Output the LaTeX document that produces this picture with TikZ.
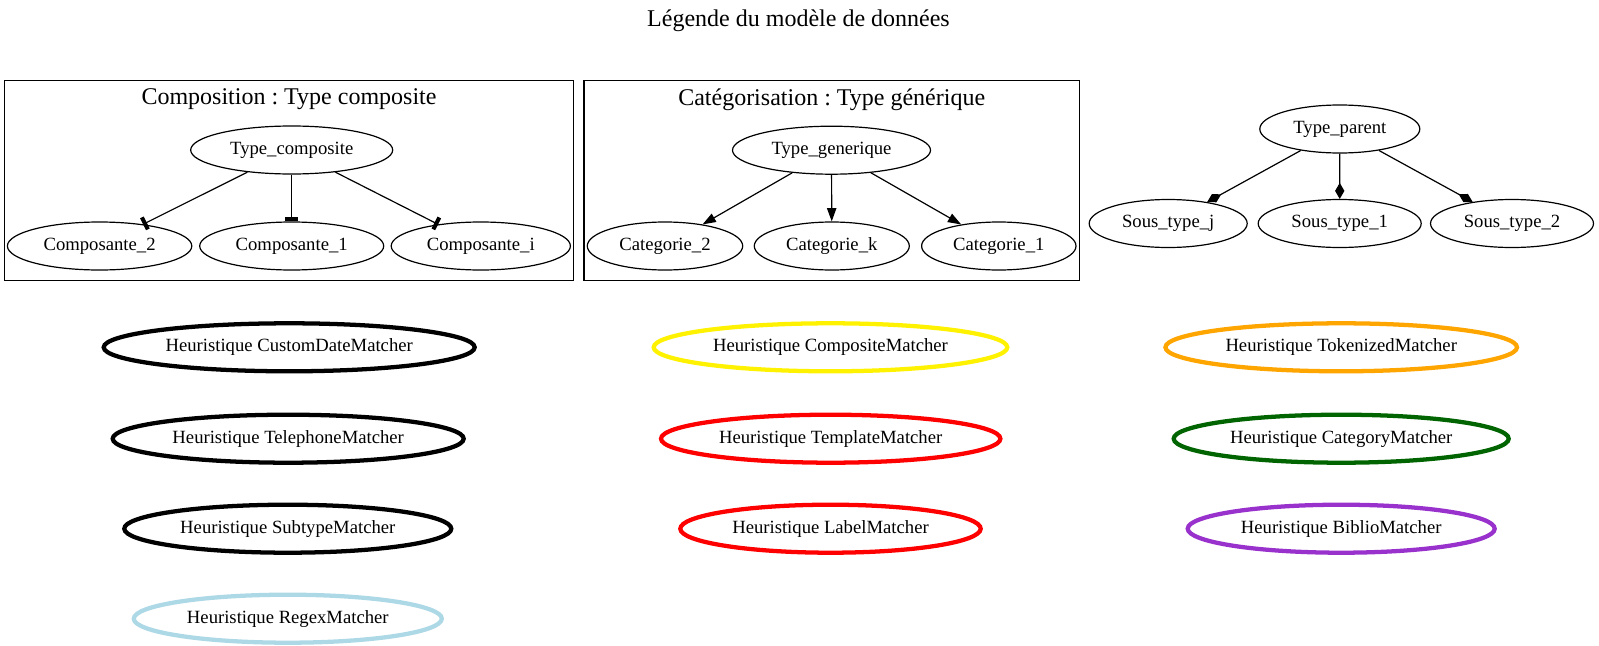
\documentclass[tikz,border=0pt]{standalone}
\usepackage{fontspec}
\setmainfont{Liberation Serif}
\frenchspacing
\usetikzlibrary{shapes.geometric,arrows.meta}
\definecolor{dgreen}{RGB}{0,100,0}
\definecolor{dorchid}{RGB}{153,50,204}
\definecolor{lblue}{RGB}{173,216,230}
\definecolor{orng}{RGB}{255,165,0}
\begin{document}
\begin{tikzpicture}[x=0.75pt,y=-0.75pt,
  ell/.style={ellipse,draw,line width=0.9pt,inner sep=0pt,minimum width=#1*1.5pt,minimum height=36pt,font=\fontsize{14}{16}\selectfont},
  heur/.style 2 args={ellipse,draw=#2,line width=3.2pt,inner sep=0pt,minimum width=#1*1.5pt,minimum height=36pt,font=\fontsize{14}{16}\selectfont},
  clus/.style={draw,line width=0.9pt},
  big/.style={font=\fontsize{18}{21}\selectfont},
  edg/.style={line width=0.9pt},
  teee/.style={edg,-{Rectangle[length=3pt,width=10pt]}},
  tri/.style={edg,-{Triangle[length=10pt,width=7pt]}},
  dia/.style={edg,-{Diamond[length=12pt,width=7pt]}}]
\path[use as bounding box] (0,0) rectangle (1599,646);
\node[big] (title) at (798.5,20.5) {Légende du modèle de données};
% clusters
\draw[clus] (4.8,80.5) rectangle (573.3,280.2);
\draw[clus] (584,80.5) rectangle (1079.3,280.2);
\node[big] (c1) at (289,99.5) {Composition : Type composite};
\node[big] (c2) at (831.7,99.5) {Catégorisation : Type générique};
% composition
\node[ell=101] (tc) at (291.7,150) {Type\_composite};
\node[ell=92.2] (cp2) at (99.6,246) {Composante\_2};
\node[ell=92] (cp1) at (291.7,246) {Composante\_1};
\node[ell=89.6] (cpi) at (480.8,246) {Composante\_i};
\draw[teee] (tc) -- (cp2);
\draw[teee] (tc) -- (cp1);
\draw[teee] (tc) -- (cpi);
% categorisation
\node[ell=99] (tg) at (831.5,150.2) {Type\_generique};
\node[ell=77.7] (ct2) at (665,246) {Categorie\_2};
\node[ell=77.5] (ctk) at (831.8,246) {Categorie\_k};
\node[ell=77.2] (ct1) at (998.8,246) {Categorie\_1};
\draw[tri] (tg) -- (ct2);
\draw[tri] (tg) -- (ctk);
\draw[tri] (tg) -- (ct1);
% subtypes
\node[ell=80] (tp) at (1339.8,129) {Type\_parent};
\node[ell=79] (stj) at (1168.2,223.5) {Sous\_type\_j};
\node[ell=81.5] (st1) at (1339.7,223.5) {Sous\_type\_1};
\node[ell=81.5] (st2) at (1512,223.5) {Sous\_type\_2};
\draw[dia] (tp) -- (stj);
\draw[dia] (tp) -- (st1);
\draw[dia] (tp) -- (st2);
% heuristics
\node[heur={185.5}{black}] (h1) at (289.2,347.3) {Heuristique CustomDateMatcher};
\node[heur={175.5}{black}] (h2) at (288.2,438.7) {Heuristique TelephoneMatcher};
\node[heur={163.5}{black}] (h3) at (287.8,528.7) {Heuristique SubtypeMatcher};
\node[heur={154}{lblue}] (h4) at (287.8,618.7) {Heuristique RegexMatcher};
\node[heur={176.8}{yellow}] (h5) at (830.5,347.3) {Heuristique CompositeMatcher};
\node[heur={169.7}{red}] (h6) at (830.7,438.7) {Heuristique TemplateMatcher};
\node[heur={150.2}{red}] (h7) at (830.5,528.7) {Heuristique LabelMatcher};
\node[heur={175.8}{orng}] (h8) at (1341.2,347.3) {Heuristique TokenizedMatcher};
\node[heur={167.5}{dgreen}] (h9) at (1341.2,438.7) {Heuristique CategoryMatcher};
\node[heur={153.5}{dorchid}] (h10) at (1341.2,528.7) {Heuristique BiblioMatcher};
\end{tikzpicture}
\end{document}
